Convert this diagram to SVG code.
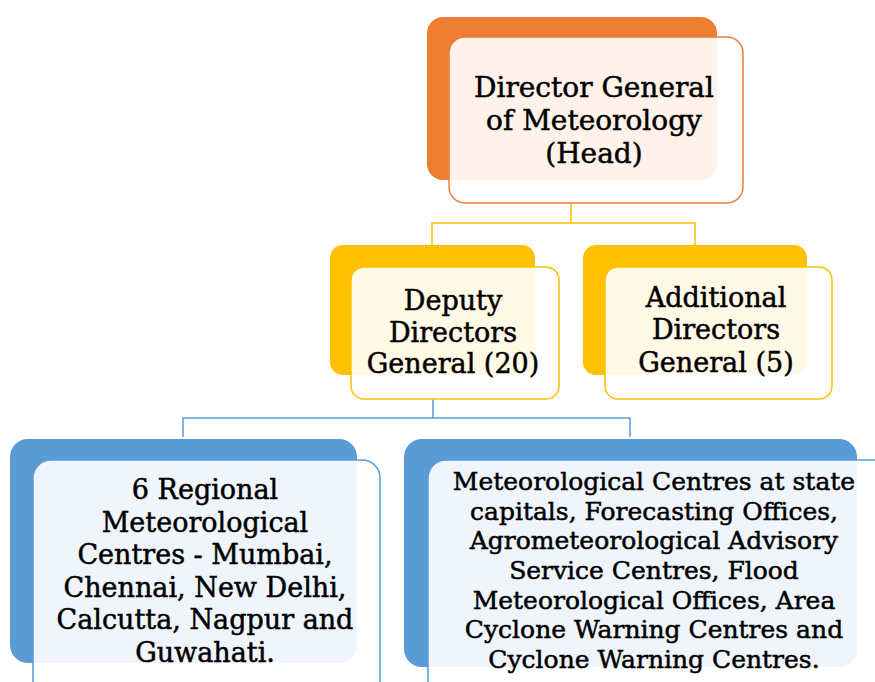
<svg xmlns="http://www.w3.org/2000/svg" width="875" height="682" viewBox="0 0 875 682">
<style>
.t{font-family:"DejaVu Serif","Liberation Serif",serif;fill:#000;stroke:#000;stroke-width:0.5;text-anchor:middle}
.front{fill:#fff;fill-opacity:0.9;stroke-width:1.5}
.conn{fill:none;stroke-width:1.5}
</style>
<rect width="875" height="682" fill="#fff"/>
<g id="connectors">
<path class="conn" stroke="#FFC000" d="M571 203V223M432 245V223H695V245"/>
<path class="conn" stroke="#5B9BD5" d="M433 399V418M183 437V418H630V437"/>
</g>
<g id="dg">
<rect x="427" y="17" width="290" height="163" rx="16" fill="#ED7D31"/>
<rect class="front" x="449" y="37" width="294" height="166" rx="16" stroke="#ED7D31"/>
<text class="t" font-size="28" x="594"><tspan x="594" y="97">Director General</tspan><tspan x="594" y="130">of Meteorology</tspan><tspan x="594" y="163">(Head)</tspan></text>
</g>
<g id="ddg">
<rect x="330" y="245" width="205" height="130" rx="13" fill="#FFC000"/>
<rect class="front" x="351" y="267" width="208" height="132" rx="13" stroke="#FFC000"/>
<text class="t" font-size="27"><tspan x="453" y="310">Deputy</tspan><tspan x="453" y="342">Directors</tspan><tspan x="453" y="373">General (20)</tspan></text>
</g>
<g id="adg">
<rect x="583" y="245" width="224" height="130" rx="13" fill="#FFC000"/>
<rect class="front" x="605" y="267" width="227" height="132" rx="13" stroke="#FFC000"/>
<text class="t" font-size="27"><tspan x="716" y="307">Additional</tspan><tspan x="716" y="339">Directors</tspan><tspan x="716" y="372">General (5)</tspan></text>
</g>
<g id="rmc">
<rect x="10" y="439" width="347" height="224" rx="18" fill="#5B9BD5"/>
<rect class="front" x="33" y="460" width="347" height="240" rx="18" stroke="#5B9BD5"/>
<text class="t" font-size="27"><tspan x="205" y="499">6 Regional</tspan><tspan x="205" y="532">Meteorological</tspan><tspan x="205" y="564">Centres - Mumbai,</tspan><tspan x="205" y="597">Chennai, New Delhi,</tspan><tspan x="205" y="629">Calcutta, Nagpur and</tspan><tspan x="205" y="662">Guwahati.</tspan></text>
</g>
<g id="mc">
<rect x="404" y="439" width="453" height="228" rx="18" fill="#5B9BD5"/>
<rect class="front" x="428" y="460" width="470" height="240" rx="18" stroke="#5B9BD5"/>
<text class="t" font-size="25"><tspan x="654" y="490">Meteorological Centres at state</tspan><tspan x="654" y="520">capitals, Forecasting Offices,</tspan><tspan x="654" y="549">Agrometeorological Advisory</tspan><tspan x="654" y="579">Service Centres, Flood</tspan><tspan x="654" y="609">Meteorological Offices, Area</tspan><tspan x="654" y="638">Cyclone Warning Centres and</tspan><tspan x="654" y="668">Cyclone Warning Centres.</tspan></text>
</g>
</svg>
